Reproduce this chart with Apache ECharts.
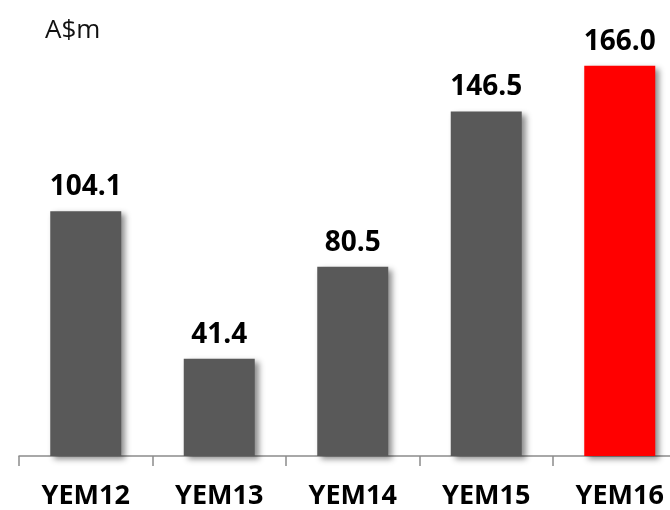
<!DOCTYPE html>
<html><head><meta charset="utf-8">
<script src="https://cdn.jsdelivr.net/npm/echarts@6/dist/echarts.min.js"></script>
<style>html,body{margin:0;padding:0;background:#fff;overflow:hidden;width:670px;height:510px}#c{width:700px;height:510px}</style>
</head><body><div id="c"></div>
<script>
var categories = ['YEM12','YEM13','YEM14','YEM15','YEM16'];
var values = [104.1, 41.4, 80.5, 146.5, 166.0];
var colors = ['#595959','#595959','#595959','#595959','#FF0000'];
var unitLabel = 'A$m';

var chart = echarts.init(document.getElementById('c'));
chart.setOption({
  animation: false,
  title: {text: unitLabel, left: 40, top: 13, textStyle: {fontFamily: 'Open Sans', fontSize: 26, fontWeight: 'normal', color: '#111'}},
  grid: {left: 19, top: 21, width: 667.5, height: 437, containLabel: false},
  xAxis: {
    type: 'category', data: categories,
    axisLine: {lineStyle: {color: '#8c8c8c', width: 1.5}},
    axisTick: {show: true, length: 10, lineStyle: {color: '#8c8c8c', width: 1.5}},
    axisLabel: {margin: 27, fontFamily: 'Open Sans', fontWeight: 'bold', fontSize: 27, color: '#000'}
  },
  yAxis: {type: 'value', min: 0, max: 185, show: false, splitLine: {show: false}},
  series: [{
    type: 'bar', barWidth: 71,
    data: values.map(function(v, i){ return {value: v, itemStyle: {color: colors[i]}}; }),
    itemStyle: {shadowColor: 'rgba(0,0,0,0.45)', shadowBlur: 6, shadowOffsetX: 4, shadowOffsetY: 3},
    label: {show: true, position: 'top', distance: 10, fontFamily: 'Open Sans', fontWeight: 'bold', fontSize: 28, color: '#000',
      formatter: function(p){ return p.value.toFixed(1); }}
  }]
});
</script></body></html>
